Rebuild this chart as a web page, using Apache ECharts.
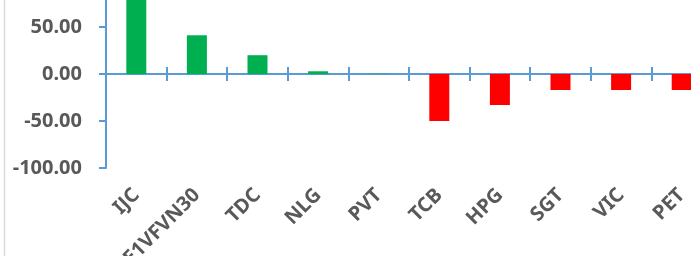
<!DOCTYPE html>
<html>
<head>
<meta charset="utf-8">
<script src="https://cdn.jsdelivr.net/npm/echarts@6/dist/echarts.min.js"></script>
<style>
  html, body { margin: 0; padding: 0; background: #fff; }
  #chart { width: 691px; height: 256px; }
</style>
</head>
<body>
<div id="chart"></div>
<script>
// Net value by ticker
var tickers = ['IJC', 'E1VFVN30', 'TDC', 'NLG', 'PVT', 'TCB', 'HPG', 'SGT', 'VIC', 'PET'];
var values = [88, 41.2, 20, 2.9, 0.3, -50, -33, -17, -17, -17];
var yTicks = [-100, -50, 0, 50, 100];

var axisBlue = '#5B9BD5';
var labelFont = { color: '#595959', fontSize: 20, fontWeight: 'bold', fontFamily: 'Noto Sans' };
var plotBox = { left: 106, right: -21, top: -20, bottom: 88, outerBoundsMode: 'none' };
var yMin = yTicks[0];
var yMax = yTicks[yTicks.length - 1];

var chart = echarts.init(document.getElementById('chart'));
var option = {
  animation: false,
  // three stacked grids with the same box: bars + zero line, labels, upward ticks
  grid: [plotBox, plotBox, plotBox],
  graphic: [{
    type: 'line',
    shape: { x1: 4.5, y1: 0, x2: 4.5, y2: 256 },
    style: { stroke: '#D9D9D9', lineWidth: 1.5 }
  }],
  xAxis: [
    {
      gridIndex: 0,
      type: 'category',
      data: tickers,
      axisLine: { onZero: true, lineStyle: { color: axisBlue, width: 2 } },
      axisTick: { show: true, interval: 0, length: 7, lineStyle: { color: axisBlue, width: 2 } },
      axisLabel: { show: false }
    },
    {
      gridIndex: 1,
      type: 'category',
      data: tickers,
      axisLine: { show: false, onZero: false },
      axisTick: { show: false },
      axisLabel: Object.assign({ rotate: 45, margin: 24, interval: 0 }, labelFont)
    },
    {
      gridIndex: 2,
      type: 'category',
      data: tickers,
      axisLine: { onZero: true, lineStyle: { color: axisBlue, width: 2 } },
      axisTick: { show: true, inside: true, interval: 0, length: 7, lineStyle: { color: axisBlue, width: 2 } },
      axisLabel: { show: false }
    }
  ],
  yAxis: [
    {
      gridIndex: 0,
      type: 'value',
      min: yMin,
      max: yMax,
      interval: 50,
      splitLine: { show: false },
      axisLine: { show: true, lineStyle: { color: axisBlue, width: 2 } },
      axisTick: { show: true, length: 7, lineStyle: { color: axisBlue, width: 2 } },
      axisLabel: Object.assign({
        margin: 24,
        formatter: function (v) { return v.toFixed(2); }
      }, labelFont)
    },
    { gridIndex: 1, type: 'value', min: yMin, max: yMax, interval: 50, show: false },
    { gridIndex: 2, type: 'value', min: yMin, max: yMax, interval: 50, show: false }
  ],
  series: [{
    type: 'bar',
    xAxisIndex: 0,
    yAxisIndex: 0,
    data: values,
    barWidth: '33%',
    itemStyle: {
      color: function (p) { return p.value >= 0 ? '#00B050' : '#FF0000'; }
    }
  }]
};
chart.setOption(option);
</script>
</body>
</html>
